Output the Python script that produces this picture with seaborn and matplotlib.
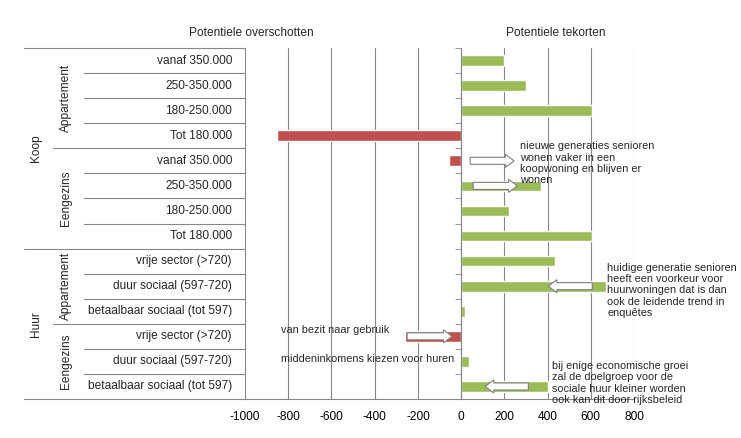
import numpy as np
import pandas as pd
import matplotlib
matplotlib.use("Agg")
import matplotlib.pyplot as plt
import matplotlib.transforms as mtransforms
from matplotlib.patches import FancyArrow
import seaborn as sns

# data
eigendom = ['Koop'] * 8 + ['Huur'] * 6
woningtype = ['Appartement'] * 4 + ['Eengezins'] * 4 + ['Appartement'] * 3 + ['Eengezins'] * 3
segment = ['vanaf 350.000', '250-350.000', '180-250.000', 'Tot 180.000',
           'vanaf 350.000', '250-350.000', '180-250.000', 'Tot 180.000',
           'vrije sector (>720)', 'duur sociaal (597-720)', 'betaalbaar sociaal (tot 597)',
           'vrije sector (>720)', 'duur sociaal (597-720)', 'betaalbaar sociaal (tot 597)']
waarde = [200, 300, 605, -850, -55, 370, 220, 605, 435, 670, 20, -260, 35, 400]
x_ticks = list(range(-1000, 801, 200))

# arrows: (row, x_start, x_end)
pijlen = [(4, 42, 245), (5, 56, 260), (9, 607, 403), (11, -250, -42), (13, 311, 111)]

# notes: (x, y, text, va)
notities = [
    (274, 3.22, 'nieuwe generaties senioren\nwonen vaker in een\nkoopwoning en blijven er\nwonen', 'top'),
    (677, 8.06, 'huidige generatie senioren\nheeft een voorkeur voor\nhuurwoningen dat is dan\nook de leidende trend in\nenquêtes', 'top'),
    (-835, 10.74, 'van bezit naar gebruik', 'center'),
    (-835, 11.9, 'middeninkomens kiezen voor huren', 'center'),
    (422, 11.98, 'bij enige economische groei\nzal de doelgroep voor de\nsociale huur kleiner worden\nook kan dit door rijksbeleid', 'top'),
]

ROOD = '#C0504D'
GROEN = '#9BBB59'
GRIJS = '#868686'
FS = 8.6

sns.set_style('white')
plt.rcParams['font.family'] = ['Liberation Sans', 'DejaVu Sans']

W, H = 741, 438
fig = plt.figure(figsize=(W / 100, H / 100), dpi=100)
ax_left, ax_right, ax_top, ax_bottom = 245, 634, 48, 399
ax = fig.add_axes([ax_left / W, 1 - ax_bottom / H, (ax_right - ax_left) / W, (ax_bottom - ax_top) / H])

df = pd.DataFrame({
    'rij': [f'{i}' for i in range(len(waarde))],
    'waarde': waarde,
    'teken': ['neg' if v < 0 else 'pos' for v in waarde],
})
sns.barplot(data=df, x='waarde', y='rij', hue='teken', palette={'neg': ROOD, 'pos': GROEN},
            dodge=False, legend=False, width=0.43, saturation=1, ax=ax, zorder=2)

n = len(waarde)
ax.set_xlim(-1000, 800)
ax.set_ylim(n - 0.5, -0.5)
ax.set_xticks(x_ticks)
ax.set_xticklabels([str(t) for t in x_ticks], fontsize=FS)
ax.set_yticks([])
ax.set_yticks(np.arange(-0.5, n), minor=True)
ax.set_xlabel('')
ax.set_ylabel('')
ax.grid(axis='x', color=GRIJS, lw=0.8, zorder=0)
ax.set_axisbelow(True)
for s in ['top', 'right']:
    ax.spines[s].set_visible(False)
ax.spines['left'].set_position(('data', 0))
ax.spines['left'].set_color(GRIJS)
ax.spines['bottom'].set_color(GRIJS)
ax.tick_params(axis='x', which='major', length=4, color=GRIJS, direction='out', pad=5, labelcolor='black')
ax.tick_params(axis='y', which='minor', length=4, color=GRIJS, direction='out', left=True)

# multi level category labels
blend = mtransforms.blended_transform_factory(fig.transFigure, ax.transData)
for i, lab in enumerate(segment):
    ax.text(232 / W, i, lab, transform=blend, ha='right', va='center', fontsize=FS)

def spans(keys):
    out, start = [], 0
    for i in range(1, len(keys) + 1):
        if i == len(keys) or keys[i] != keys[start]:
            out.append((keys[start], start, i - 1))
            start = i
    return out

combo = [e + '|' + w for e, w in zip(eigendom, woningtype)]
for lab, a, b in spans(combo):
    ax.text(66 / W, (a + b) / 2, lab.split('|')[1], transform=blend, rotation=90,
            ha='center', va='center', fontsize=FS)
for lab, a, b in spans(eigendom):
    ax.text(36 / W, (a + b) / 2, lab, transform=blend, rotation=90,
            ha='center', va='center', fontsize=FS)

for b in range(n + 1):
    if b == 0 or b == n or eigendom[b] != eigendom[b - 1]:
        x0 = 24
    elif woningtype[b] != woningtype[b - 1]:
        x0 = 53
    else:
        x0 = 84
    ax.plot([x0 / W, ax_left / W], [b - 0.5, b - 0.5], transform=blend, color=GRIJS,
            lw=0.8, clip_on=False)

# headers
fig.text(251 / W, 1 - 33 / H, 'Potentiele overschotten', ha='center', va='center', fontsize=FS)
fig.text(556 / W, 1 - 33 / H, 'Potentiele tekorten', ha='center', va='center', fontsize=FS)

# arrows and notes
for rij, x0, x1 in pijlen:
    dx = x1 - x0
    ax.add_patch(FancyArrow(x0, rij, dx, 0, width=0.28, head_width=0.52,
                            head_length=40, length_includes_head=True,
                            facecolor='white', edgecolor='#7F7F7F', lw=0.8, zorder=4))
for x, y, txt, va in notities:
    ax.text(x, y, txt, ha='left', va=va, fontsize=7.8, linespacing=1.17, zorder=5)

fig.savefig('out.png', dpi=100)
